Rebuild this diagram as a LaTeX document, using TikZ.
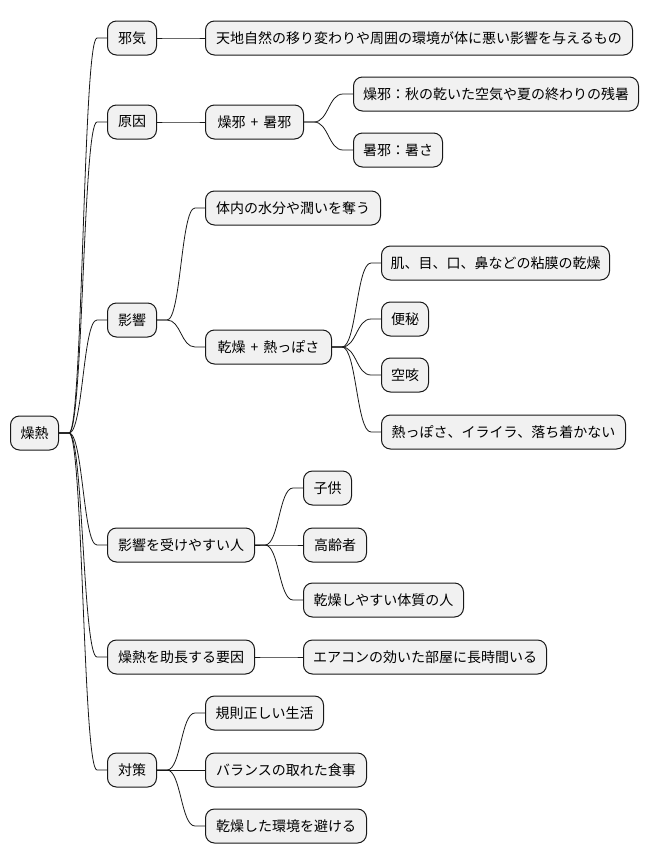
\documentclass[tikz,border=0pt]{standalone}
\usepackage{fontspec}
\setmainfont{Noto Sans CJK JP}
\usetikzlibrary{calc}
\definecolor{boxfill}{HTML}{F1F1F1}
\definecolor{boxline}{HTML}{181818}
\newcommand{\plussep}{\hspace{5pt}+\hspace{5pt}}
\tikzset{
  mbox/.style={draw=boxline, line width=1pt, fill=boxfill, rounded corners=9pt,
    minimum height=34pt, inner sep=0pt, anchor=west, text=black,
    font=\fontsize{14}{16}\selectfont},
  mm/.style={draw=boxline, line width=0.8pt, to path={let \p1=(\tikztostart), \p2=(\tikztotarget), \n1={(\x1+\x2)/2} in
    (\p1) -- ++(10pt,0) .. controls ({\n1*1pt},\y1) and ({\n1*1pt},\y2) .. ($(\p2)+(-10pt,0)$) -- (\p2)}}
}
\begin{document}
\begin{tikzpicture}[x=1pt,y=-1pt]
\useasboundingbox (0,0) rectangle (649,865);
% root
\node[mbox, minimum width=48pt] (root) at (10,433) {燥熱};
% level 1
\node[mbox, minimum width=49pt] (jaki) at (107,38) {邪気};
\node[mbox, minimum width=49pt] (gen) at (107,122) {原因};
\node[mbox, minimum width=49pt] (eik) at (107,320) {影響};
\node[mbox, minimum width=147pt] (hito) at (107,545) {影響を受けやすい人};
\node[mbox, minimum width=147pt] (yoin) at (107,657) {燥熱を助長する要因};
\node[mbox, minimum width=49pt] (tai) at (107,770) {対策};
% level 2
\node[mbox, minimum width=427pt] (tenchi) at (205,38) {天地自然の移り変わりや周囲の環境が体に悪い影響を与えるもの};
\node[mbox, minimum width=98pt] (sojasho) at (205,122) {燥邪\plussep 暑邪};
\node[mbox, minimum width=285pt] (soja) at (353,94) {燥邪：秋の乾いた空気や夏の終わりの残暑};
\node[mbox, minimum width=89pt] (shoja) at (353,150) {暑邪：暑さ};
\node[mbox, minimum width=175pt] (tainai) at (205,208) {体内の水分や潤いを奪う};
\node[mbox, minimum width=126pt] (kanso) at (205,347) {乾燥\plussep 熱っぽさ};
\node[mbox, minimum width=228pt] (hada) at (381,263) {肌、目、口、鼻などの粘膜の乾燥};
\node[mbox, minimum width=47pt] (benpi) at (381,319) {便秘};
\node[mbox, minimum width=47pt] (karaseki) at (381,375) {空咳};
\node[mbox, minimum width=244pt] (netsu) at (381,432) {熱っぽさ、イライラ、落ち着かない};
\node[mbox, minimum width=48pt] (kodomo) at (303,488) {子供};
\node[mbox, minimum width=63pt] (korei) at (303,545) {高齢者};
\node[mbox, minimum width=160pt] (taishitsu) at (303,600) {乾燥しやすい体質の人};
\node[mbox, minimum width=243pt] (aircon) at (303,657) {エアコンの効いた部屋に長時間いる};
\node[mbox, minimum width=118pt] (kisoku) at (205,713) {規則正しい生活};
\node[mbox, minimum width=161pt] (balance) at (205,770) {バランスの取れた食事};
\node[mbox, minimum width=161pt] (sakeru) at (205,826) {乾燥した環境を避ける};
% connectors
\foreach \c in {jaki,gen,eik,hito,yoin,tai} \draw[mm] (root.east) to (\c.west);
\draw[mm] (jaki.east) to (tenchi.west);
\draw[mm] (gen.east) to (sojasho.west);
\draw[mm] (sojasho.east) to (soja.west);
\draw[mm] (sojasho.east) to (shoja.west);
\draw[mm] (eik.east) to (tainai.west);
\draw[mm] (eik.east) to (kanso.west);
\foreach \c in {hada,benpi,karaseki,netsu} \draw[mm] (kanso.east) to (\c.west);
\foreach \c in {kodomo,korei,taishitsu} \draw[mm] (hito.east) to (\c.west);
\draw[mm] (yoin.east) to (aircon.west);
\foreach \c in {kisoku,balance,sakeru} \draw[mm] (tai.east) to (\c.west);
\end{tikzpicture}
\end{document}
